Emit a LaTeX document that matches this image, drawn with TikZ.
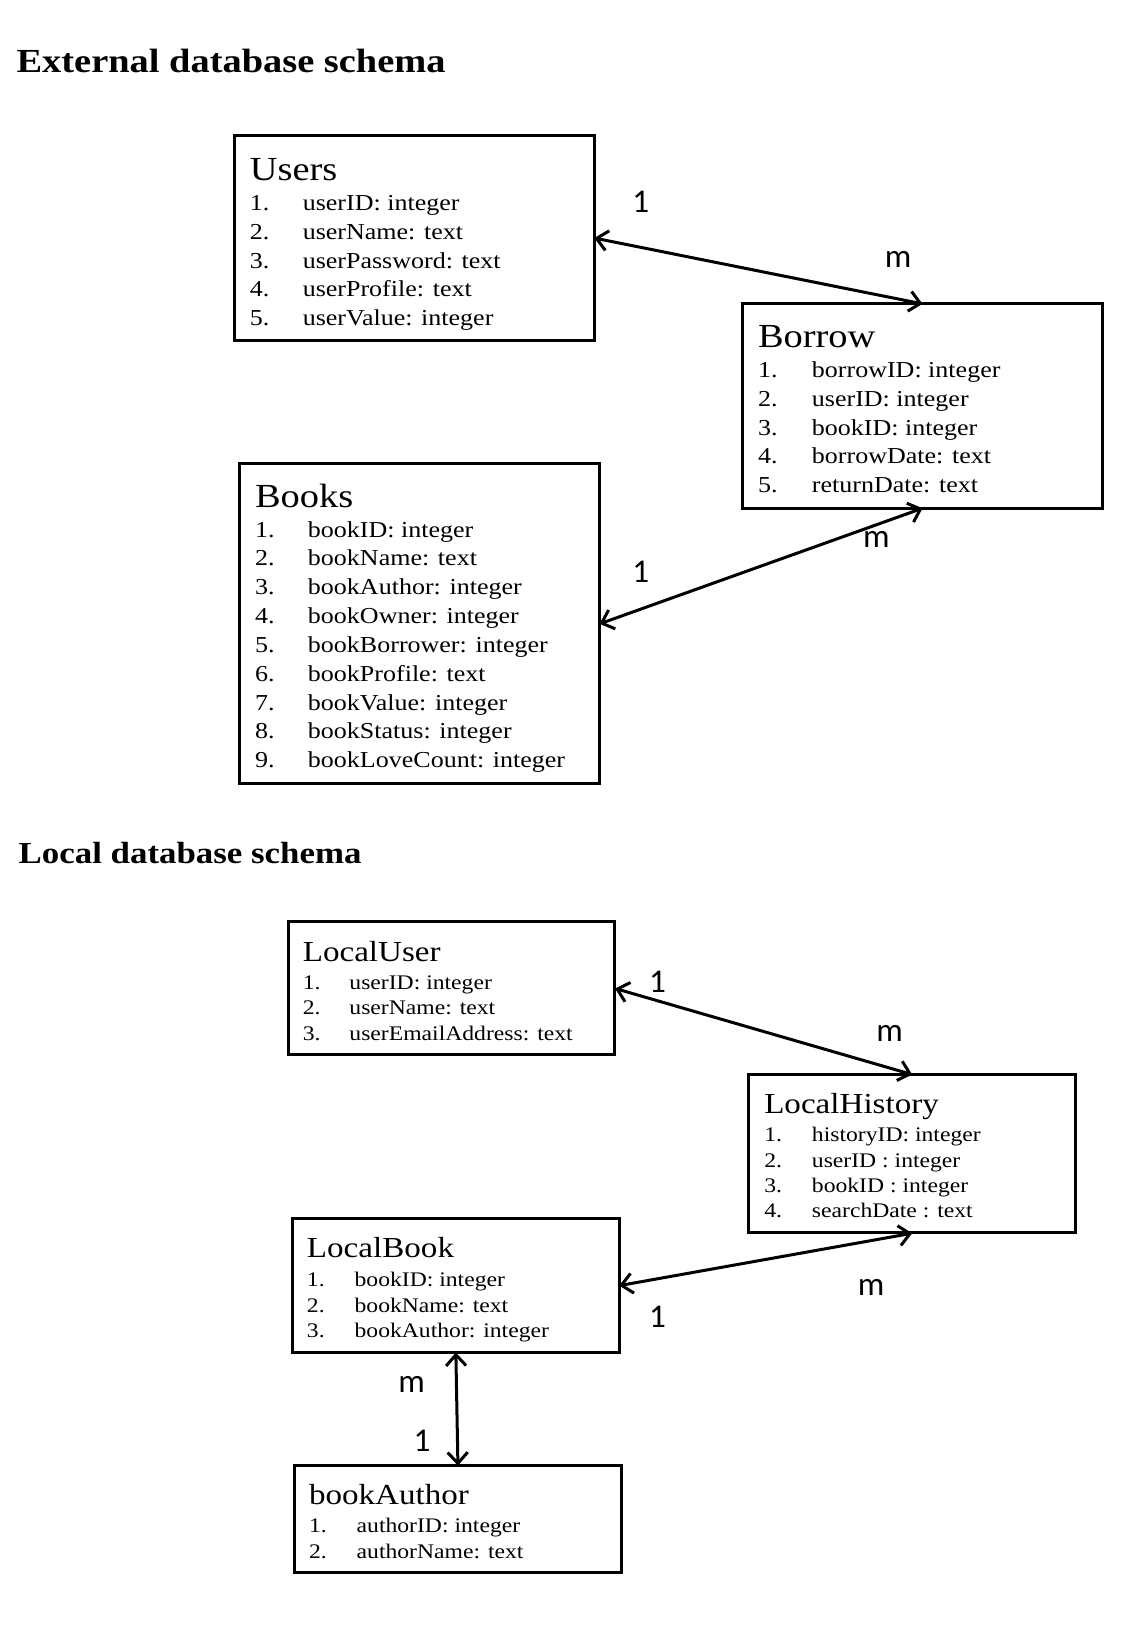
\documentclass[tikz,border=0pt]{standalone}
\usepackage{fontspec}
\setmainfont{Liberation Serif}[FakeStretch=1.14]
\newfontfamily\cardfont{Carlito}
\usetikzlibrary{arrows.meta}

\begin{document}
\begin{tikzpicture}[%
    x=1pt, y=-1pt, scale=1.037,                   % pixel-like grid, y going down
    >={Straight Barb[length=11pt,width=20pt]},    % open arrow heads
    every node/.style={inner sep=0pt, outer sep=0pt, transform shape},
    ]
\tikzset{
  tbox/.style={draw, line width=3pt, rectangle, anchor=north west},
  head/.style={anchor=base west, font=\fontsize{32.5}{40}\selectfont\bfseries},
  lhead/.style={anchor=base west, font=\fontsize{29.5}{36}\selectfont\bfseries},
  ttl/.style={anchor=base west, font=\fontsize{32.5}{38}\selectfont},
  lttl/.style={anchor=base west, font=\fontsize{28}{34}\selectfont},
  flds/.style={anchor=base west, align=left, font=\fontsize{22}{27.8}\selectfont},
  lflds/.style={anchor=base west, align=left, font=\fontsize{20}{24.5}\selectfont},
  card/.style={font=\cardfont\fontsize{32}{38}\selectfont},
  rel/.style={<->, line width=3pt},
}
\useasboundingbox (0,0) rectangle (1101.3,1570.9);

% external schema
\node [head] (exthead) at (16,70) {External database schema};

\node [tbox, minimum width=347pt, minimum height=197pt] (users) at (226,131) {};
\node [ttl] (userst) at (241,174) {Users};
\node [flds] (usersf) at (241,203) {\begin{tabular}[t]{@{}p{51pt}@{}l@{}}
  1.&userID: integer\\ 2.&userName: text\\ 3.&userPassword: text\\
  4.&userProfile: text\\ 5.&userValue: integer\end{tabular}};

\node [tbox, minimum width=347pt, minimum height=197pt] (borrow) at (716,293) {};
\node [ttl] (borrowt) at (731,335) {Borrow};
\node [flds] (borrowf) at (731,364) {\begin{tabular}[t]{@{}p{52pt}@{}l@{}}
  1.&borrowID: integer\\ 2.&userID: integer\\ 3.&bookID: integer\\
  4.&borrowDate: text\\ 5.&returnDate: text\end{tabular}};

\node [tbox, minimum width=347pt, minimum height=309pt] (books) at (231,447) {};
\node [ttl] (bookst) at (246,489) {Books};
\node [flds] (booksf) at (246,518) {\begin{tabular}[t]{@{}p{51pt}@{}l@{}}
  1.&bookID: integer\\ 2.&bookName: text\\ 3.&bookAuthor: integer\\
  4.&bookOwner: integer\\ 5.&bookBorrower: integer\\ 6.&bookProfile: text\\
  7.&bookValue: integer\\ 8.&bookStatus: integer\\ 9.&bookLoveCount: integer\end{tabular}};

% local schema
\node [lhead] (lochead) at (18,833) {Local database schema};

\node [tbox, minimum width=315pt, minimum height=128pt] (locuser) at (278,889) {};
\node [lttl] (locusert) at (292,927) {LocalUser};
\node [lflds] (locuserf) at (292,954) {\begin{tabular}[t]{@{}p{45pt}@{}l@{}}
  1.&userID: integer\\ 2.&userName: text\\ 3.&userEmailAddress: text\end{tabular}};

\node [tbox, minimum width=315pt, minimum height=153pt] (lochist) at (722,1036) {};
\node [lttl] (lochistt) at (737,1074) {LocalHistory};
\node [lflds] (lochistf) at (737,1101) {\begin{tabular}[t]{@{}p{46pt}@{}l@{}}
  1.&historyID: integer\\ 2.&userID : integer\\ 3.&bookID : integer\\
  4.&searchDate : text\end{tabular}};

\node [tbox, minimum width=315pt, minimum height=129pt] (locbook) at (282,1175) {};
\node [lttl] (locbookt) at (296,1213) {LocalBook};
\node [lflds] (locbookf) at (296,1241) {\begin{tabular}[t]{@{}p{46pt}@{}l@{}}
  1.&bookID: integer\\ 2.&bookName: text\\ 3.&bookAuthor: integer\end{tabular}};

\node [tbox, minimum width=315pt, minimum height=103pt] (bkauthor) at (284,1413) {};
\node [lttl] (bkauthort) at (298,1451) {bookAuthor};
\node [lflds] (bkauthorf) at (298,1478) {\begin{tabular}[t]{@{}p{46pt}@{}l@{}}
  1.&authorID: integer\\ 2.&authorName: text\end{tabular}};

% relations
\draw [rel] (users.east) -- (borrow.north);
\draw [rel] (books.east) -- (borrow.south);
\draw [rel] (locuser.east) -- (lochist.north);
\draw [rel] (locbook.east) -- (lochist.south);
\draw [rel] (locbook.south) -- (bkauthor.north);

\node [card] (c1) at (618,195) {1};
\node [card] (c2) at (866,250) {m};
\node [card] (c3) at (618,551) {1};
\node [card] (c4) at (845,520) {m};
\node [card] (c5) at (634,947) {1};
\node [card] (c6) at (858,997) {m};
\node [card] (c7) at (634,1270) {1};
\node [card] (c8) at (840,1242) {m};
\node [card] (c9) at (397,1335) {m};
\node [card] (c10) at (407,1389) {1};

\end{tikzpicture}
\end{document}
